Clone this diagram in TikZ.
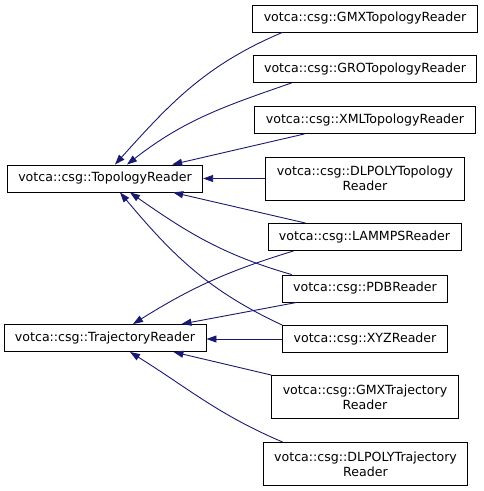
\documentclass[tikz,border=0pt]{standalone}
\usepackage{fontspec}
\setmainfont{DejaVu Sans}
\usepackage{xcolor}
\usetikzlibrary{arrows.meta,positioning}
\definecolor{edgeblue}{HTML}{191970}

\begin{document}
\begin{tikzpicture}[x=1pt, y=1pt,
  font=\fontsize{12.6}{15}\selectfont,
  cls/.style={draw=black, fill=white, align=center, inner xsep=11pt, inner ysep=0pt, minimum height=27pt, line width=0.9pt},
  tall/.style={cls, minimum height=43pt},
  arr/.style={-{Triangle[length=10pt, width=7pt]}, draw=edgeblue, line width=0.9pt}]
\useasboundingbox (0,0) rectangle (483,-491);
% base classes
\node[cls] (topo) at (105,-178.5) {votca::csg::TopologyReader};
\node[cls] (traj) at (105,-338) {votca::csg::TrajectoryReader};
% derived classes
\node[cls] (gmxtop) at (365,-18.5) {votca::csg::GMXTopologyReader};
\node[cls] (grotop) at (365,-69) {votca::csg::GROTopologyReader};
\node[cls] (xmltop) at (365,-120) {votca::csg::XMLTopologyReader};
\node[tall] (dltop) at (365,-178.5) {votca::csg::DLPOLYTopology\\Reader};
\node[cls] (lammps) at (364.5,-237) {votca::csg::LAMMPSReader};
\node[cls] (pdb) at (365,-288.5) {votca::csg::PDBReader};
\node[cls] (xyz) at (365,-339) {votca::csg::XYZReader};
\node[tall] (gmxtraj) at (365,-397) {votca::csg::GMXTrajectory\\Reader};
\node[tall] (dltraj) at (365.5,-464) {votca::csg::DLPOLYTrajectory\\Reader};
% inheritance to TopologyReader
\draw[arr] ([xshift=30pt]gmxtop.south west) to[out=203, in=48] ([xshift=10pt]topo.north);
\draw[arr] ([xshift=39pt]grotop.south west) to[out=199, in=38] ([xshift=22pt]topo.north);
\draw[arr] ([xshift=50pt]xmltop.south west) -- ([xshift=-31pt]topo.north east);
\draw[arr] (dltop.west) -- (topo.east);
\draw[arr] ([xshift=38pt]lammps.north west) -- ([xshift=-30pt]topo.south east);
\draw[arr] ([xshift=10pt]pdb.north west) to[out=164, in=-35] ([xshift=25pt]topo.south);
\draw[arr] (xyz.north west) to[out=155, in=-50] ([xshift=15pt]topo.south);
% inheritance to TrajectoryReader
\draw[arr] ([xshift=26pt]lammps.south west) to[out=197, in=32] ([xshift=28pt]traj.north);
\draw[arr] ([xshift=15pt]pdb.south west) -- ([xshift=-25pt]traj.north east);
\draw[arr] (xyz.west) -- (xyz.west -| traj.east);
\draw[arr] (gmxtraj.north west) -- ([xshift=-33pt]traj.south east);
\draw[arr] ([xshift=20pt]dltraj.north west) to[out=157, in=-32] ([xshift=25pt]traj.south);
\end{tikzpicture}
\end{document}
